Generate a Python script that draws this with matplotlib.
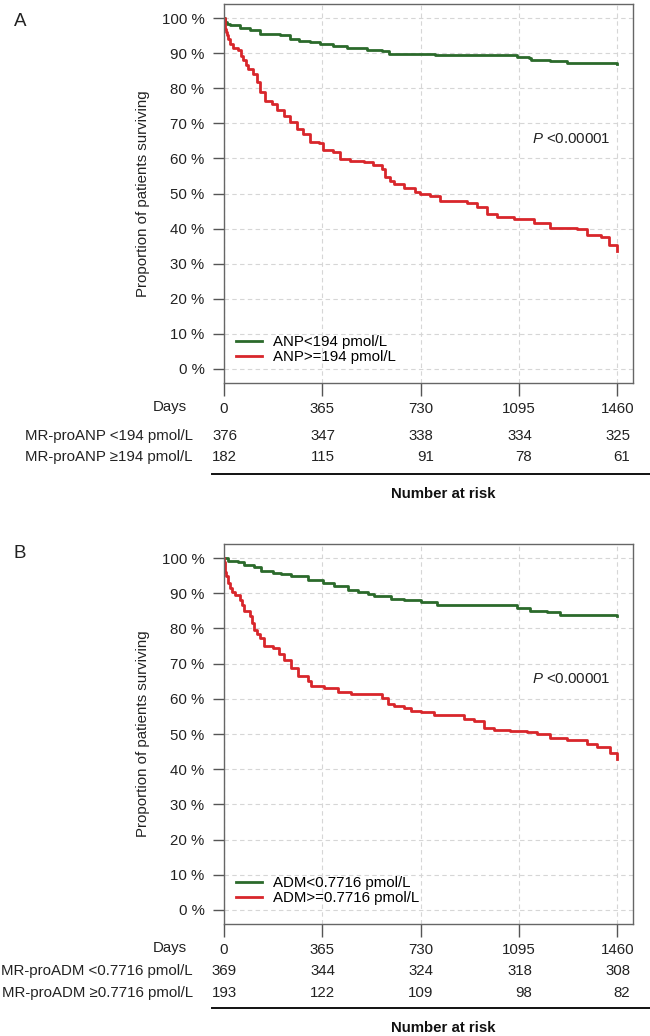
# Kaplan-Meier curves for MR-proANP (A) and MR-proADM (B) with number-at-risk tables

import numpy as np
import matplotlib
matplotlib.use('Agg')
from matplotlib import pyplot as plt

plt.rcParams['font.family'] = ['Liberation Sans', 'DejaVu Sans']
plt.rcParams['mathtext.fontset'] = 'custom'
plt.rcParams['mathtext.it'] = 'Liberation Sans:italic'
plt.rcParams['mathtext.rm'] = 'Liberation Sans'

# ---- data ----
tick_days = [0, 365, 730, 1095, 1460]
pct_ticks = np.arange(0, 1.01, 0.1)
pct_labels = ['%d %%' % round(v * 100) for v in pct_ticks]

# panel A
a_low_days = [0, 5, 12, 22, 60, 97, 134, 208, 245, 280, 320, 357, 406, 456, 530, 586, 611,
              729, 784, 1026, 1088, 1132, 1138, 1212, 1274, 1460]
a_low_surv = [1.0, 0.99, 0.984, 0.979, 0.972, 0.965, 0.955, 0.951, 0.939, 0.935, 0.932,
              0.925, 0.920, 0.915, 0.908, 0.905, 0.898, 0.898, 0.894, 0.894, 0.890, 0.887,
              0.880, 0.877, 0.872, 0.868]
a_high_days = [0, 2, 4, 7, 10, 16, 22, 35, 53, 62, 72, 80, 90, 109, 121, 134, 152, 177,
               196, 221, 245, 270, 295, 320, 351, 369, 406, 431, 468, 518, 555, 586, 599,
               615, 630, 667, 710, 729, 766, 803, 865, 902, 939, 976, 1014, 1076, 1113,
               1150, 1212, 1311, 1348, 1398, 1429, 1460]
a_high_surv = [1.0, 0.985, 0.970, 0.960, 0.951, 0.940, 0.927, 0.914, 0.908, 0.893, 0.879,
               0.867, 0.856, 0.841, 0.817, 0.789, 0.765, 0.756, 0.737, 0.721, 0.703, 0.684,
               0.670, 0.646, 0.644, 0.625, 0.618, 0.599, 0.592, 0.589, 0.580, 0.570, 0.547,
               0.537, 0.528, 0.515, 0.504, 0.499, 0.494, 0.480, 0.480, 0.473, 0.461, 0.442,
               0.433, 0.428, 0.426, 0.416, 0.401, 0.399, 0.382, 0.375, 0.352, 0.335]
a_legend = ['ANP<194 pmol/L', 'ANP>=194 pmol/L']
a_rows = ['MR-proANP <194 pmol/L', 'MR-proANP \u2265194 pmol/L']
a_risk_low = [376, 347, 338, 334, 325]
a_risk_high = [182, 115, 91, 78, 61]

# panel B
b_low_days = [0, 15, 52, 76, 113, 138, 181, 212, 249, 286, 311, 354, 366, 409, 459, 496,
              533, 557, 594, 619, 668, 730, 792, 1026, 1088, 1137, 1199, 1248, 1433, 1460]
b_low_surv = [1.0, 0.993, 0.988, 0.981, 0.975, 0.962, 0.959, 0.955, 0.950, 0.948, 0.938,
              0.938, 0.929, 0.920, 0.910, 0.905, 0.898, 0.893, 0.891, 0.884, 0.880, 0.875,
              0.868, 0.866, 0.858, 0.851, 0.847, 0.839, 0.839, 0.834]
b_high_days = [0, 1, 2, 5, 9, 15, 21, 30, 39, 58, 67, 76, 95, 104, 113, 122, 132, 150, 181,
               206, 224, 249, 274, 311, 323, 372, 422, 471, 551, 588, 607, 631, 668, 693,
               730, 779, 866, 890, 927, 964, 1001, 1063, 1125, 1162, 1211, 1273, 1322, 1347,
               1384, 1433, 1460]
b_high_surv = [1.0, 0.99, 0.976, 0.96, 0.948, 0.930, 0.915, 0.905, 0.896, 0.882, 0.866,
               0.849, 0.834, 0.815, 0.797, 0.785, 0.773, 0.749, 0.745, 0.726, 0.711, 0.688,
               0.666, 0.650, 0.636, 0.631, 0.619, 0.615, 0.615, 0.603, 0.584, 0.579, 0.574,
               0.565, 0.562, 0.553, 0.553, 0.543, 0.536, 0.518, 0.511, 0.508, 0.505, 0.499,
               0.489, 0.484, 0.484, 0.473, 0.464, 0.447, 0.430]
b_legend = ['ADM<0.7716 pmol/L', 'ADM>=0.7716 pmol/L']
b_rows = ['MR-proADM <0.7716 pmol/L', 'MR-proADM \u22650.7716 pmol/L']
b_risk_low = [369, 344, 324, 318, 308]
b_risk_high = [193, 122, 109, 98, 82]

p_text = r'$\mathit{P}$ <0.00001'

GREEN = '#2b6a2b'
RED = '#d8262b'
FS = 10.8
W, H = 650, 1036

fig = plt.figure(figsize=(6.5, 10.36), dpi=100)


def fx(x):
    return x / W


def fy(y):
    return 1 - y / H


def panel(top, bottom, letter, letter_y, lows, highs, legend, rows, risk_low, risk_high,
          row_ys, line_y, nar_y):
    ax = fig.add_axes([fx(224), fy(bottom), fx(633) - fx(224), fy(top) - fy(bottom)])
    ax.step(lows[0], lows[1], where='post', color=GREEN, lw=2, label=legend[0])
    ax.step(highs[0], highs[1], where='post', color=RED, lw=2, label=legend[1])
    ax.set_xlim(0, 1460 * 1.04)
    ax.set_ylim(-0.04, 1.04)
    ax.set_xticks(tick_days)
    ax.set_xticklabels([str(d) for d in tick_days], fontsize=FS, color='#222222')
    ax.set_yticks(pct_ticks)
    ax.set_yticklabels(pct_labels, fontsize=FS, color='#222222')
    ax.tick_params(axis='x', length=9, pad=5, color='#555555', width=1)
    ax.tick_params(axis='y', length=8, pad=6, color='#555555', width=1)
    ax.grid(color='#d6d6d6', linestyle=(0, (4, 3)), lw=0.8)
    for s in ax.spines.values():
        s.set_color('#666666')
        s.set_linewidth(1)
    ax.set_ylabel('Proportion of patients surviving', fontsize=FS, color='#222222')
    ax.yaxis.set_label_coords((150 - 224) / 409, 0.5)
    ax.text(1435, 0.655, p_text, fontsize=FS, ha='right', va='center', color='#222222')
    mid = bottom - 33.5
    ax.legend(loc='center left', bbox_to_anchor=(fx(236), fy(mid)),
              bbox_transform=fig.transFigure, frameon=False, fontsize=FS,
              borderpad=0, borderaxespad=0, handlelength=1.75, handletextpad=0.7,
              labelspacing=0.05)

    fig.text(fx(20), fy(letter_y), letter, fontsize=13.5, ha='center', va='center',
             color='#222222')
    # number at risk table
    fig.text(fx(187), fy(bottom + 24), 'Days', fontsize=FS, ha='right', va='center',
             color='#222222')
    for label, counts, ry in zip(rows, [risk_low, risk_high], row_ys):
        fig.text(fx(193), fy(ry), label, fontsize=FS, ha='right', va='center',
                 color='#222222')
        for d, n in zip(tick_days, counts):
            xpx = 224 + d * 409 / (1460 * 1.04) + 13
            fig.text(fx(xpx), fy(ry), str(n), fontsize=FS, ha='right', va='center',
                     color='#222222')
    fig.add_artist(plt.Line2D([fx(212), fx(650)], [fy(line_y), fy(line_y)],
                              transform=fig.transFigure, color='#111111', lw=1.4))
    fig.text(fx(443), fy(nar_y), 'Number at risk', fontsize=FS, fontweight='bold',
             ha='center', va='center', color='#111111')
    return ax


panel(4, 383, 'A', 21, (a_low_days, a_low_surv), (a_high_days, a_high_surv),
      a_legend, a_rows, a_risk_low, a_risk_high, (436, 457), 474, 494)
panel(544, 924, 'B', 553, (b_low_days, b_low_surv), (b_high_days, b_high_surv),
      b_legend, b_rows, b_risk_low, b_risk_high, (971, 993), 1008, 1028)

fig.savefig('out.png', dpi=100)
